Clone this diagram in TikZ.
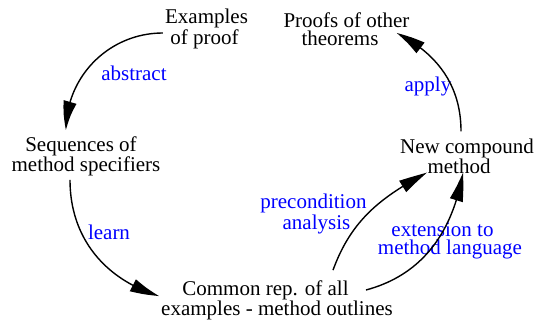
\documentclass[tikz,border=0pt]{standalone}
\usepackage{fontspec}
\setmainfont{Liberation Serif}
\newfontfamily\diagfont{Liberation Serif}
\usetikzlibrary{arrows.meta, bending}
\tikzstyle{stage} = [inner sep=0pt, align=center, font=\diagfont\fontsize{21}{18}\selectfont]
\tikzstyle{action} = [inner sep=0pt, align=center, text=blue, font=\diagfont\fontsize{21}{18}\selectfont]
\tikzstyle{arrow} = [line width=1.4pt, -{Triangle[length=29pt,width=13pt,bend]}]

\begin{document}
\begin{tikzpicture}[x=1pt,y=-1pt]
	\useasboundingbox (0,0) rectangle (536,320);
	\node (examples) [stage] at (206.5,29) {Examples\\of proof\hspace*{4pt}};
	\node (proofs) [stage] at (346.5,29) {Proofs of other\\theorems\hspace*{13pt}};
	\node (seqs) [stage] at (86,156) {Sequences of\hspace*{10pt}\\method specifiers};
	\node (newmeth) [stage] at (467,156) {New compound\\method\hspace*{16pt}};
	\node (common) [stage] at (277,300) {Common rep. of all\hspace*{23pt}\\examples - method outlines};

	\node (abstract) [action] at (134,73) {abstract};
	\node (learn) [action] at (109,232) {learn};
	\node (apply) [action] at (428,86) {apply};
	\node (precond) [action] at (313.5,214) {precondition\\\hspace*{6pt}analysis};
	\node (extend) [action] at (450,241) {extension to\hspace*{15pt}\\method language};

		\draw [arrow] ([xshift=-2pt,yshift=-4pt]examples.west) to[out=180,in=90] ([xshift=-20pt,yshift=6pt]seqs.north);
		\draw [arrow] ([xshift=-16pt,yshift=-4pt]seqs.south) to[out=-90,in=163] ([xshift=-2pt,yshift=4pt]common.west);
		\draw [arrow] ([xshift=56pt,yshift=10pt]common.north) to[out=70,in=-152] ([xshift=-40pt,yshift=1pt]newmeth.south);
		\draw [arrow] ([xshift=-27pt,yshift=10pt]common.east) to[out=15,in=-100] ([xshift=-4pt,yshift=1pt]newmeth.south);
		\draw [arrow] ([xshift=-6pt,yshift=7pt]newmeth.north) to[out=90,in=-27] ([xshift=-13pt,yshift=-4pt]proofs.east);
\end{tikzpicture}
\end{document}
